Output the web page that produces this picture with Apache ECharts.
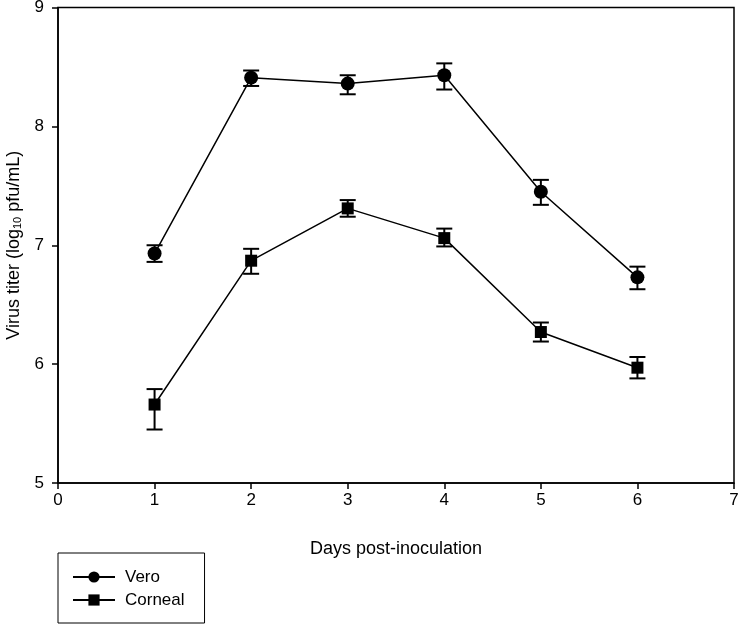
<!DOCTYPE html>
<html><head><meta charset="utf-8">
<script src="https://cdn.jsdelivr.net/npm/echarts@6/dist/echarts.min.js"></script>
<style>html,body{margin:0;padding:0;background:#fff}#c{width:740px;height:626px}</style>
</head><body><div id="c"></div>
<script>
var days = [1, 2, 3, 4, 5, 6];
var veroMean = [6.93, 8.41, 8.36, 8.43, 7.45, 6.73];
var veroLow  = [6.86, 8.34, 8.27, 8.31, 7.34, 6.63];
var veroHigh = [7.00, 8.47, 8.43, 8.53, 7.55, 6.82];
var cornMean = [5.66, 6.87, 7.31, 7.06, 6.27, 5.97];
var cornLow  = [5.45, 6.76, 7.24, 6.99, 6.19, 5.88];
var cornHigh = [5.79, 6.97, 7.38, 7.14, 6.35, 6.06];
var xTicks = [0, 1, 2, 3, 4, 5, 6, 7];
var yTicks = [5, 6, 7, 8, 9];

var FONT = '"Liberation Sans", Arial, sans-serif';
function pts(m){ return days.map(function(d,i){return [d, m[i]];}); }
function errs(lo,hi){ return days.map(function(d,i){return [d, lo[i], hi[i]];}); }
function errRender(params, api){
  var x = api.value(0);
  var p1 = api.coord([x, api.value(1)]);
  var p2 = api.coord([x, api.value(2)]);
  var w = 8;
  var st = {stroke:'#000', lineWidth:2};
  return {type:'group', children:[
    {type:'line', shape:{x1:p1[0],y1:p1[1],x2:p2[0],y2:p2[1]}, style:st},
    {type:'line', shape:{x1:p1[0]-w,y1:p1[1],x2:p1[0]+w,y2:p1[1]}, style:st},
    {type:'line', shape:{x1:p2[0]-w,y1:p2[1],x2:p2[0]+w,y2:p2[1]}, style:st}
  ]};
}
var chart = echarts.init(document.getElementById('c'), null, {renderer:'canvas'});
chart.setOption({
  animation:false,
  backgroundColor:'#fff',
  grid:{left:58, right:6, top:7.5, bottom:143, show:true, borderColor:'#000', borderWidth:1.5,
    containLabel:false, outerBoundsMode:'none'},
  xAxis:{type:'value', min:xTicks[0], max:xTicks[xTicks.length-1], interval:1,
    name:'Days post-inoculation', nameLocation:'middle', nameGap:57,
    nameTextStyle:{color:'#000', fontSize:18, fontFamily:FONT},
    axisLine:{show:true, onZero:false, lineStyle:{color:'#000', width:1.5}},
    axisTick:{show:true, inside:false, length:6, lineStyle:{color:'#000', width:1.5}},
    axisLabel:{color:'#000', fontSize:17, fontFamily:FONT, margin:9},
    splitLine:{show:false}},
  yAxis:{type:'value', min:yTicks[0], max:yTicks[yTicks.length-1], interval:1,
    name:'Virus titer (log{sub|10} pfu/mL)', nameLocation:'middle', nameGap:35, nameRotate:90,
    nameTextStyle:{color:'#000', fontSize:18, fontFamily:FONT,
      rich:{sub:{fontSize:11, fontFamily:FONT, color:'#000', verticalAlign:'bottom', padding:[7,0,0,0]}}},
    axisLine:{show:true, onZero:false, lineStyle:{color:'#000', width:1.5}},
    axisTick:{show:true, inside:false, length:6, lineStyle:{color:'#000', width:1.5}},
    axisLabel:{color:'#000', fontSize:17, fontFamily:FONT, margin:14},
    splitLine:{show:false}},
  legend:{orient:'vertical', left:58, top:553, data:['Vero','Corneal'],
    borderColor:'#000', borderWidth:1, padding:[14,20,13,14], itemGap:3,
    itemWidth:42, itemHeight:14,
    textStyle:{color:'#000', fontSize:17, lineHeight:20, fontFamily:FONT, padding:[0,0,0,5]}},
  series:[
    {name:'Vero', type:'line', data:pts(veroMean), symbol:'circle', symbolSize:14,
      lineStyle:{color:'#000', width:1.5}, itemStyle:{color:'#000'}, z:3},
    {name:'Corneal', type:'line', data:pts(cornMean), symbol:'rect', symbolSize:12,
      lineStyle:{color:'#000', width:1.5}, itemStyle:{color:'#000'}, z:3},
    {type:'custom', renderItem:errRender, data:errs(veroLow, veroHigh), z:4, silent:true},
    {type:'custom', renderItem:errRender, data:errs(cornLow, cornHigh), z:4, silent:true}
  ]
});
</script></body></html>
